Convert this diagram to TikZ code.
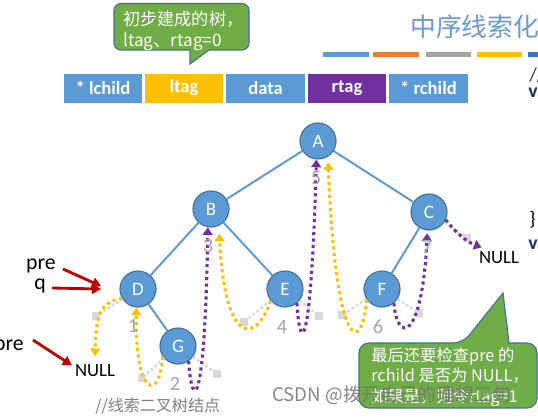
\documentclass[tikz,border=0pt]{standalone}
\usepackage{fontspec}
\setmainfont{Carlito}
\newfontfamily\cjk{Noto Sans CJK SC}
\usetikzlibrary{arrows.meta}
\definecolor{nblue}{HTML}{5B9BD5}
\definecolor{nedge}{HTML}{41719C}
\definecolor{tyel}{HTML}{FFC000}
\definecolor{tpur}{HTML}{7030A0}
\definecolor{tgray}{HTML}{D9D9D9}
\definecolor{cgreen}{HTML}{70AD47}
\definecolor{pred}{HTML}{C00000}
\definecolor{bor}{HTML}{ED7D31}
\definecolor{bgray}{HTML}{A5A5A5}
\definecolor{bdark}{HTML}{4472C4}
\definecolor{ttl}{HTML}{6A9BD3}
\definecolor{codeblue}{HTML}{1F2F6F}
\begin{document}
\begin{tikzpicture}[x=0.025cm,y=-0.025cm,
  vtx/.style={circle,minimum size=0.9cm,inner sep=0pt,fill=nblue,draw=nedge,line width=0.8pt,text=white,font=\fontsize{13.5}{14}\selectfont},
  fld/.style={minimum width=1.97cm,minimum height=0.725cm,inner sep=0pt,text=white,font=\fontsize{13.2}{14}\selectfont\bfseries},
  thr/.style={line width=2.2pt,dash pattern=on 2.2pt off 2.4pt,-{Triangle[width=7pt,length=5.5pt]}},
  nul/.style={tgray,line width=1.8pt,dash pattern=on 1.8pt off 1.8pt},
  sq/.style={fill=tgray,minimum size=0.19cm,inner sep=0pt},
  num/.style={text=black!35,font=\fontsize{14.5}{15}\selectfont},
  ptr/.style={pred,line width=2pt,-{Triangle[width=7pt,length=6.5pt]}},
  lbl/.style={font=\fontsize{15.5}{16}\selectfont,inner sep=0pt},
  nulltxt/.style={font=\fontsize{13.3}{14}\selectfont,inner sep=0pt},
  callout/.style={fill=cgreen,draw=nedge,line width=0.8pt}]
\useasboundingbox[fill=white] (0,0) rectangle (538,417);
\node[anchor=west,inner sep=0pt,text=ttl,font=\cjk\fontsize{18.3}{20}\selectfont] (title) at (410,27) {中序线索化};
\fill[nblue] (323,52) rectangle (369,57);
\fill[bor] (373,52) rectangle (419,57);
\fill[bgray] (426,52) rectangle (471,57);
\fill[tyel] (477,52) rectangle (522,57);
\fill[bdark] (528,52) rectangle (545,57);
\node[anchor=west,inner sep=0pt,text=black!75,font=\fontsize{14}{15}\selectfont] (cm1) at (529,75) {//};
\node[anchor=west,inner sep=0pt,text=codeblue,font=\fontsize{14}{15}\selectfont\bfseries] (cd1) at (528,91) {void};
\node[anchor=west,inner sep=0pt,font=\fontsize{14}{15}\selectfont] (br1) at (529,220) {\}};
\node[anchor=west,inner sep=0pt,text=codeblue,font=\fontsize{14}{15}\selectfont\bfseries] (cd2) at (528,243) {void};
\draw[callout] (190,50) [rounded corners=5pt] -- (114,50) -- (114,3.5) -- (249,3.5) -- (249,50) [sharp corners] -- (209,50) -- (190,64) -- cycle;
\node[anchor=west,align=left,inner sep=0pt,text=white,font=\cjk\fontsize{12.2}{15.3}\selectfont] (tip1) at (123,31) {初步建成的树，\\ltag、rtag=0};
\node[fld,fill=nblue] (f1) at (103,88) {* lchild};
\node[fld,fill=tyel] (f2) at (184,88) {ltag};
\node[fld,fill=nblue] (f3) at (265.5,88) {data};
\node[fld,fill=tpur] (f4) at (347,88) {rtag};
\node[fld,fill=nblue] (f5) at (428.5,88) {* rchild};
\node[vtx] (A) at (318,141) {A};
\node[vtx] (B) at (211,209) {B};
\node[vtx] (C) at (429,212) {C};
\node[vtx] (D) at (138,289) {D};
\node[vtx] (E) at (285,289) {E};
\node[vtx] (F) at (382,289) {F};
\node[vtx] (G) at (178,346) {G};
\draw[nblue,line width=1.4pt] (A) -- (B) (A) -- (C) (B) -- (D) (B) -- (E) (C) -- (F) (D) -- (G);
\node[sq] (s1) at (96,316) {};
\node[sq] (s2) at (142,378) {};
\node[sq] (s3) at (217,374) {};
\node[sq] (s4) at (244,322) {};
\node[sq] (s5) at (319,316) {};
\node[sq] (s6) at (342,315) {};
\node[sq] (s7) at (419,313) {};
\node[sq] (s8) at (467,238) {};
\draw[nul] (D) -- (s1) (G) -- (s2) (G) -- (s3) (E) -- (s4) (E) -- (s5) (F) -- (s6) (F) -- (s7) (C) -- (s8);
\node[nulltxt] (nl1) at (95,371) {NULL};
\node[nulltxt] (nl2) at (499,258) {NULL};
\draw[thr,tyel] (D.210) .. controls (100,302) and (96,315) .. ([yshift=6pt]nl1.north);
\draw[thr,tyel] (G.215) .. controls (160,400) and (135,400) .. (D.-95);
\draw[thr,tpur] (G.-55) .. controls (192,412) and (205,412) .. (B.-100);
\draw[thr,tyel,shorten >=5.5pt] (E.220) .. controls (255,345) and (225,345) .. (B.-65);
\draw[thr,tpur] (E.-50) .. controls (300,355) and (311,355) .. (A.-95);
\draw[thr,tyel,shorten >=4pt] (F.215) .. controls (362,355) and (336,355) .. (A.-58);
\draw[thr,tpur,shorten >=2pt] (F.-50) .. controls (397,343) and (422,343) .. (C.-95);
\draw[thr,tpur] (C.-25) .. controls (455,232) and (467,242) .. ([xshift=2pt,yshift=3pt]nl2.north west);
\node[num] (n1) at (133,326) {1};
\node[num] (n2) at (175,384) {2};
\node[num] (n3) at (208,246) {3};
\node[num] (n4) at (282,327) {4};
\node[num] (n5) at (316,178) {5};
\node[num] (n6) at (378,327) {6};
\node[num] (n7) at (427,247) {7};
\node[lbl] (pre1) at (41,266) {pre};
\node[lbl] (q1) at (40,286) {q};
\node[lbl] (pre2) at (9,347) {pre};
\draw[ptr] (63,269) -- ([xshift=-13pt,yshift=2pt]D.west);
\draw[ptr] (52,288) -- ([xshift=-13pt]D.west);
\draw[ptr] (33,340) -- ([xshift=-2pt,yshift=4pt]nl1.west);
\node[anchor=west,inner sep=0pt,text=black!50,font=\cjk\fontsize{11.4}{12}\selectfont] (cmt) at (95,406) {//线索二叉树结点};
\draw[callout] (509,343) [rounded corners=7pt] -- (537,343) -- (537,408) -- (359,408) -- (359,343) -- (463,343) [sharp corners] -- (503,293) -- cycle;
\node[anchor=west,align=left,inner sep=0pt,text=white,font=\cjk\fontsize{11.6}{14.6}\selectfont] (tip2) at (371,377) {最后还要检查pre 的\\rchild 是否为 NULL，\\如果是，则令rtag=1};
\node[anchor=west,inner sep=0pt,text=black!55,opacity=0.85,font=\cjk\fontsize{13.3}{14}\selectfont] (wm) at (272,395) {CSDN @拨开自己的理想三旬};
\end{tikzpicture}
\end{document}
